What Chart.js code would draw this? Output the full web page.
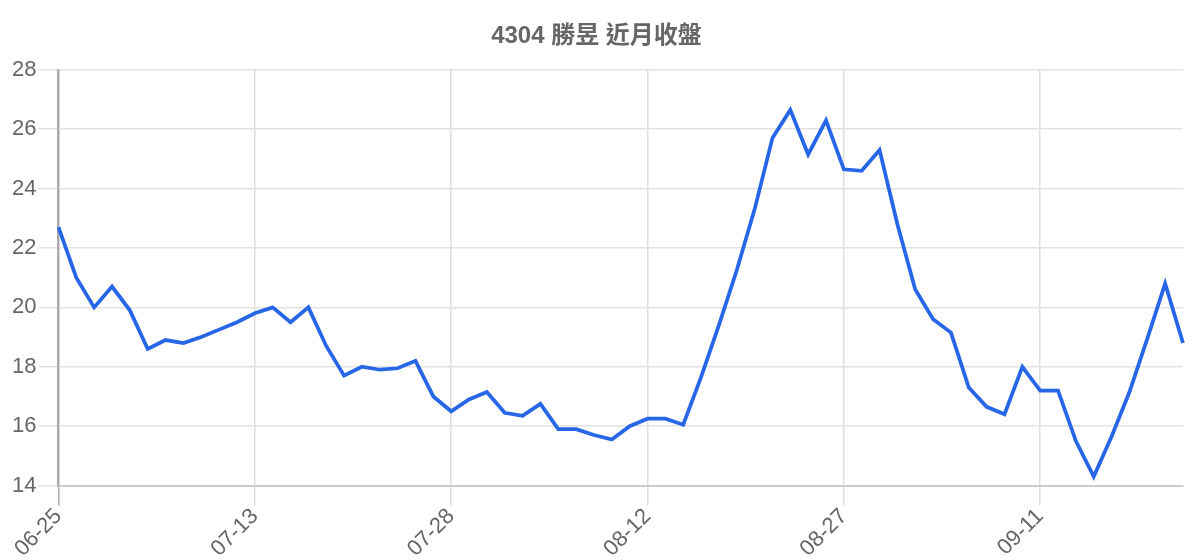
<!DOCTYPE html>
<html>
<head>
<meta charset="utf-8">
<script src="https://cdn.jsdelivr.net/npm/chart.js@4.4.1/dist/chart.umd.min.js"></script>
<style>
  html, body { margin: 0; padding: 0; background: #fff; }
  #wrap { width: 1200px; height: 560px; position: relative; }
</style>
</head>
<body>
<div id="wrap"><canvas id="c"></canvas></div>
<script>
const titleText = '4304 勝昱 近月收盤';
const dates = [
  '06-25','06-26','06-29','06-30','07-01','07-02','07-03','07-06','07-07','07-08','07-10',
  '07-13','07-14','07-15','07-16','07-17','07-20','07-21','07-22','07-23','07-24','07-27',
  '07-28','07-29','07-30','07-31','08-03','08-04','08-05','08-06','08-07','08-10','08-11',
  '08-12','08-13','08-14','08-17','08-18','08-19','08-20','08-21','08-24','08-25','08-26',
  '08-27','08-28','08-31','09-01','09-02','09-03','09-04','09-07','09-08','09-09','09-10',
  '09-11','09-14','09-15','09-16','09-17','09-18','09-21','09-22','09-23'
];
const closes = [
  22.7, 21.0, 20.0, 20.7, 19.9, 18.6, 18.9, 18.8, 19.0, 19.25,
  19.5, 19.8, 20.0, 19.5, 20.0, 18.7, 17.7, 18.0, 17.9, 17.95,
  18.2, 17.0, 16.5, 16.9, 17.15, 16.45, 16.35, 16.75, 15.9, 15.9,
  15.7, 15.55, 16.0, 16.25, 16.25, 16.05, 17.65, 19.4, 21.25, 23.3,
  25.7, 26.65, 25.15, 26.3, 24.65, 24.6, 25.3, 22.8, 20.6, 19.6,
  19.15, 17.3, 16.65, 16.4, 18.0, 17.2, 17.2, 15.5, 14.3, 15.65,
  17.15, 18.95, 20.8, 18.8
];
const labelEvery = 11;
const yMin = 14, yMax = 28, yStep = 2;

const fontFamily = "'Liberation Sans', Arial, 'Noto Sans CJK TC', sans-serif";

new Chart(document.getElementById('c'), {
  type: 'line',
  data: {
    labels: dates,
    datasets: [{
      label: '收盤',
      data: closes,
      borderColor: '#2766e6',
      borderWidth: 3.75,
      pointRadius: 0,
      pointHoverRadius: 0,
      tension: 0,
      fill: false
    }]
  },
  options: {
    responsive: true,
    maintainAspectRatio: false,
    animation: false,
    layout: { padding: { left: 10, right: 17, top: 0, bottom: 0 } },
    plugins: {
      legend: { display: false },
      tooltip: { enabled: false },
      title: {
        display: true,
        text: titleText,
        color: '#666',
        font: { family: fontFamily, size: 24, weight: 'bold' },
        padding: { top: 22, bottom: 19 }
      }
    },
    scales: {
      x: {
        offset: false,
        grid: {
          color: (ctx) => ctx.index === 0 ? '#aaa' : '#dedede',
          lineWidth: 1.5,
          tickLength: 20
        },
        border: { color: '#ccc', width: 2 },
        ticks: {
          autoSkip: false,
          minRotation: 45,
          maxRotation: 45,
          color: '#666',
          padding: -2,
          font: { family: fontFamily, size: 22 },
          callback: function (val, idx) {
            return idx % labelEvery === 0 ? this.getLabelForValue(val) : null;
          }
        }
      },
      y: {
        min: yMin,
        max: yMax,
        grid: { color: '#e2e2e2', lineWidth: 1.5, tickLength: 20 },
        border: { color: '#aaa', width: 2 },
        ticks: {
          stepSize: yStep,
          color: '#666',
          padding: 2,
          font: { family: fontFamily, size: 22 }
        }
      }
    }
  }
});
</script>
</body>
</html>
